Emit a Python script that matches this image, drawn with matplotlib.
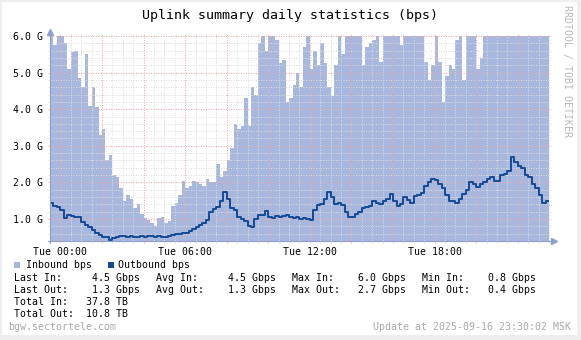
import numpy as np
import matplotlib as mpl
import matplotlib.pyplot as plt
from matplotlib.patches import Rectangle

# rrdtool-like look
mpl.rcParams['font.family'] = 'DejaVu Sans Mono'

W, H = 581, 340

# 10-minute samples from Mon 23:30 to Tue 23:30 (Gbps)
inbound_gbps = [
    6.0, 5.75, 6.0, 6.0, 5.8, 5.1, 5.55, 5.6, 4.85, 4.6,
    5.5, 4.1, 4.6, 4.05, 3.3, 3.45, 2.6, 2.75, 2.2, 2.15,
    1.85, 1.5, 1.65, 1.55, 1.3, 1.42, 1.15, 1.03, 0.98, 0.9,
    0.82, 1.03, 1.05, 0.9, 0.95, 1.35, 1.45, 1.65, 2.05, 1.85,
    1.9, 2.05, 2.0, 1.95, 1.9, 2.1, 2.0, 2.0, 2.5, 2.15,
    2.3, 2.6, 2.95, 3.6, 3.45, 3.55, 4.3, 3.55, 4.6, 4.4,
    5.8, 6.0, 5.6, 6.0, 6.0, 5.9, 5.25, 5.35, 4.2, 4.3,
    4.65, 5.0, 4.6, 5.7, 6.0, 5.1, 5.6, 5.2, 5.8, 5.25,
    4.6, 4.35, 5.2, 6.0, 5.5, 6.0, 6.0, 6.0, 6.0, 6.0,
    5.2, 5.7, 5.8, 5.9, 6.0, 5.3, 6.0, 6.0, 6.0, 6.0,
    6.0, 5.75, 6.0, 6.0, 6.0, 6.0, 6.0, 6.0, 5.3, 4.8,
    5.2, 6.0, 5.3, 4.2, 4.9, 5.2, 5.1, 5.9, 6.0, 4.8,
    6.0, 6.0, 6.0, 5.1, 5.4, 6.0, 6.0, 6.0, 6.0, 6.0,
    6.0, 6.0, 6.0, 6.0, 6.0, 6.0, 6.0, 6.0, 6.0, 6.0,
    6.0, 6.0, 6.0, 6.0,
]
outbound_gbps = [
    1.45, 1.35, 1.33, 1.25, 1.03, 1.1, 1.08, 1.05, 1.05, 0.92,
    0.85, 0.78, 0.7, 0.62, 0.57, 0.52, 0.5, 0.44, 0.48, 0.52,
    0.55, 0.53, 0.52, 0.54, 0.52, 0.5, 0.53, 0.52, 0.53, 0.55,
    0.52, 0.54, 0.5, 0.52, 0.55, 0.56, 0.58, 0.6, 0.62, 0.63,
    0.66, 0.72, 0.78, 0.85, 0.9, 0.98, 1.2, 1.28, 1.32, 1.48,
    1.75, 1.55, 1.3, 1.25, 1.05, 1.0, 0.95, 0.82, 0.78, 1.0,
    1.1, 1.12, 1.22, 1.05, 1.03, 1.07, 1.05, 1.08, 1.1, 1.05,
    1.03, 1.05, 1.0, 1.03, 1.0, 0.97, 1.25, 1.38, 1.4, 1.55,
    1.75, 1.6, 1.4, 1.45, 1.38, 1.2, 1.05, 1.05, 1.15, 1.2,
    1.3, 1.32, 1.35, 1.5, 1.45, 1.42, 1.5, 1.55, 1.68, 1.5,
    1.35, 1.4, 1.6, 1.52, 1.45, 1.62, 1.65, 1.7, 1.9, 2.0,
    2.1, 2.08, 1.95, 1.85, 1.65, 1.5, 1.48, 1.45, 1.55, 1.68,
    1.8, 2.0, 1.95, 1.88, 1.95, 2.0, 2.1, 2.15, 2.05, 2.05,
    2.2, 2.22, 2.3, 2.7, 2.55, 2.45, 2.4, 2.2, 2.15, 1.95,
    1.85, 1.65, 1.45, 1.5,
]
hour_ticks = [0, 6, 12, 18]
hour_labels = ['Tue 00:00', 'Tue 06:00', 'Tue 12:00', 'Tue 18:00']
gbps_ticks = [1.0, 2.0, 3.0, 4.0, 5.0, 6.0]
gbps_labels = ['%.1f G' % v for v in gbps_ticks]

title = 'Uplink summary daily statistics (bps)'
legend_names = ['Inbound bps', 'Outbound bps']
stats_rows = [
    ['Last In:     4.5 Gbps', 'Avg In:     4.5 Gbps', 'Max In:    6.0 Gbps', 'Min In:    0.8 Gbps'],
    ['Last Out:    1.3 Gbps', 'Avg Out:    1.3 Gbps', 'Max Out:   2.7 Gbps', 'Min Out:   0.4 Gbps'],
    ['Total In:   37.8 TB'],
    ['Total Out:  10.8 TB'],
]
host = 'bgw.sectortele.com'
updated = 'Update at 2025-09-16 23:30:02 MSK'
watermark = 'RRDTOOL / TOBI OETIKER'

C_IN = '#A7B7DE'
C_OUT = '#134A96'
C_MINOR = '#DCDCDC'
C_MAJOR = '#F2A6A6'
C_AXIS = '#8CA0D0'
C_FAINT = '#A8A8A8'
FS = 7.1

step_h = 1.0 / 6
t_start, t_end = -0.5, 23.5
n = len(inbound_gbps)
t = t_start + np.arange(n + 1) * step_h
inb = np.append(inbound_gbps, inbound_gbps[-1])
outb = np.append(outbound_gbps, outbound_gbps[-1])
y_lo, y_hi = 0.4, 6.0


def fx(x):
    return x / W


def fy(y):
    return 1 - y / H


fig = plt.figure(figsize=(W / 100, H / 100), dpi=100, facecolor='#EEEEEE')
fig.patches.append(Rectangle((fx(2), fy(335)), 575 / W, 333 / H,
                             transform=fig.transFigure, facecolor='white',
                             edgecolor='none', zorder=-5))

ax = fig.add_axes([fx(50), fy(241), 499 / W, 205 / H], zorder=2)
ax.set_facecolor('white')
for s in ax.spines.values():
    s.set_visible(False)
ax.set_xlim(t_start, t_end)
ax.set_ylim(y_lo, y_hi)

# data
ax.fill_between(t, inb, y_lo, step='post', color=C_IN, linewidth=0, zorder=1)
ax.step(t, outb, where='post', color=C_OUT, linewidth=1.4, zorder=4)

# grid, dotted, drawn over the area and slightly past the plot edges
dot = (0, (1, 1.5))
xt = ax.get_xaxis_transform()
yt = ax.get_yaxis_transform()
ex, ey = 2 / 499, 2 / 205
grid_kw = dict(lw=0.72, ls=dot, clip_on=False)
for h in np.arange(-0.5, 23.51, 0.5):
    if h % 2 != 0:
        ax.plot([h, h], [-ey, 1 + ey], transform=xt, color=C_MINOR,
                zorder=2, **grid_kw)
for h in np.arange(0, 23.5, 2):
    ax.plot([h, h], [-ey, 1 + ey], transform=xt, color=C_MAJOR,
            zorder=3, **grid_kw)
for v in np.arange(0.6, 6.01, 0.2):
    if abs(v - round(v)) > 1e-6:
        ax.plot([-ex, 1 + ex], [v, v], transform=yt, color=C_MINOR,
                zorder=2, **grid_kw)
for v in gbps_ticks:
    ax.plot([-ex, 1 + ex], [v, v], transform=yt, color=C_MAJOR,
            zorder=3, **grid_kw)

# axes with arrows
ax.plot([-0.004, 1.008], [0, 0], transform=ax.transAxes, color=C_AXIS,
        lw=0.8, clip_on=False, zorder=5)
ax.plot([0, 0], [-0.01, 1.01], transform=ax.transAxes, color=C_AXIS,
        lw=0.8, clip_on=False, zorder=5)
ax.plot([1.011], [0], marker='>', ms=4, color=C_AXIS, transform=ax.transAxes,
        clip_on=False, zorder=5)
ax.plot([0], [1.02], marker='^', ms=4, color=C_AXIS, transform=ax.transAxes,
        clip_on=False, zorder=5)

ax.set_xticks(hour_ticks)
ax.set_xticklabels(hour_labels, fontsize=FS)
ax.set_yticks(gbps_ticks)
ax.set_yticklabels(gbps_labels, fontsize=FS)
ax.tick_params(axis='x', length=0, pad=4)
ax.tick_params(axis='y', length=0, pad=5)

# header and side text
fig.text(fx(290.5), fy(15), title, fontsize=9.5, ha='center', va='center')
fig.text(fx(567), fy(5), watermark, fontsize=FS, color='#B8B8B8',
         rotation=270, ha='center', va='top')

# legend
for x0, col, name, tx in [(14, C_IN, legend_names[0], 26),
                          (108, C_OUT, legend_names[1], 118)]:
    fig.patches.append(Rectangle((fx(x0), fy(268)), 6 / W, 6 / H,
                                 transform=fig.transFigure, facecolor=col,
                                 edgecolor='none'))
    fig.text(fx(tx), fy(265.5), name, fontsize=FS, ha='left', va='center')

col_x = [14, 156, 292, 422]
row_y = [278, 290, 302, 314]
for row, y in zip(stats_rows, row_y):
    for x, s in zip(col_x, row):
        fig.text(fx(x), fy(y), s, fontsize=FS, ha='left', va='center')

fig.text(fx(8), fy(327), host, fontsize=FS, color=C_FAINT, ha='left', va='center')
fig.text(fx(571), fy(327), updated, fontsize=FS, color=C_FAINT,
         ha='right', va='center')

fig.savefig('out.png', dpi=100, facecolor=fig.get_facecolor())
